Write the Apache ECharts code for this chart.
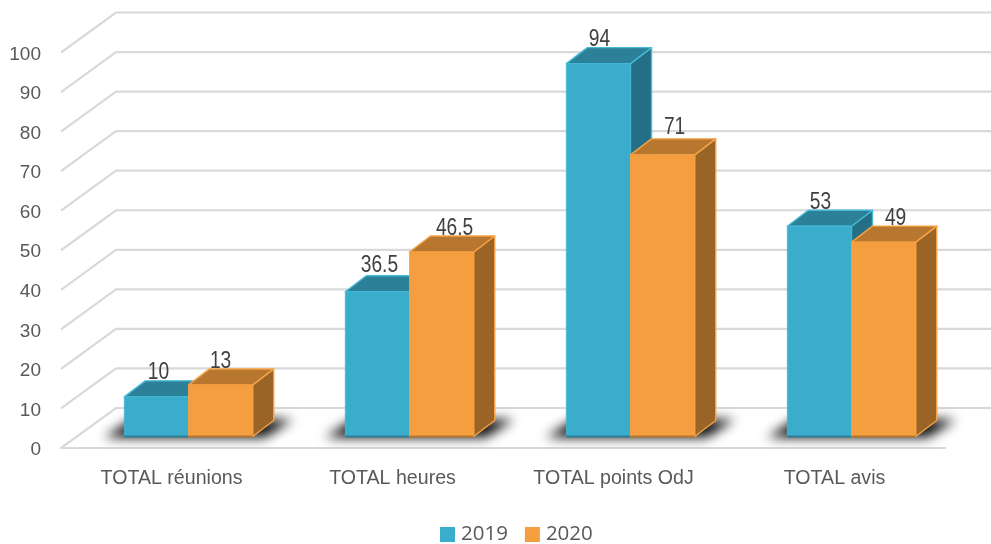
<!DOCTYPE html>
<html><head><meta charset="utf-8">
<style>html,body{margin:0;padding:0;background:#fff}#c{width:991px;height:544px}</style>
<script src="https://cdn.jsdelivr.net/npm/echarts@6/dist/echarts.min.js"></script>
</head><body><div id="c"></div>
<script>
const categories = ['TOTAL réunions','TOTAL heures','TOTAL points OdJ','TOTAL avis'];
const values2019 = [10,36.5,94,53];
const values2020 = [13,46.5,71,49];
const ticks = [0,10,20,30,40,50,60,70,80,90,100];

const FONT = '"Liberation Sans",Arial,sans-serif';
const WALL = {dx:55, dy:-40};
const BAR = {w:64.2, dx:21, dy:-16, floorX:17, floorY:-11.5, k:1.003};
const C = {
  s2019:{front:'#3BADCC',top:'#2C8199',side:'#246F86',edge:'#45B9D6',base:'#2A7F96',lx:[2,2,1,1],ly:[-8,-10,-8,-8]},
  s2020:{front:'#F59E3F',top:'#B8772E',side:'#996426',edge:'#F5A144',base:'#B8772E',lx:[0,13,12,12],ly:[-8,-8,-11,-8]}
};
const chart = echarts.init(document.getElementById('c'),null,{renderer:'canvas'});

function wallItem(p,api){
  const c = api.coord([0,api.value(1)]);
  const cs = p.coordSys;
  const x0 = cs.x, x1 = cs.x+cs.width;
  return {type:'polyline',silent:true,shape:{points:[[x0,c[1]],[x0+WALL.dx,c[1]+WALL.dy],[x1+WALL.dx,c[1]+WALL.dy]]},
    style:{stroke:'#D9D9D9',lineWidth:2.2,fill:null}};
}
function shadowItem(p,api){
  const idx = api.value(0);
  const c = api.coord([idx,0]);
  const l = c[0]-BAR.w+BAR.floorX, r = c[0]+BAR.w+BAR.floorX, b = c[1]+BAR.floorY;
  const off = 3000;
  return {type:'polygon',silent:true,shape:{points:[[l-20-off,b+1],[r+12-off,b+1],[r+40-off,b-17],[l+8-off,b-17]]},
    style:{fill:'#111',shadowBlur:12,shadowColor:'rgba(10,10,10,1)',shadowOffsetX:off}};
}
function barRender(sign,col){
  return function(p,api){
    const idx = api.value(0), v = api.value(1);
    const c0 = api.coord([idx,0]), cv = api.coord([idx,v]);
    const h = (c0[1]-cv[1])*BAR.k;
    const b = c0[1]+BAR.floorY, t = b-h;
    const xl = c0[0]+BAR.floorX+(sign<0?-BAR.w:0), xr = xl+BAR.w;
    const dx=BAR.dx, dy=BAR.dy;
    const line={stroke:col.edge,lineWidth:1.4,lineJoin:'round'};
    return {type:'group',children:[
      {type:'polygon',shape:{points:[[xr,t],[xr+dx,t+dy],[xr+dx,b+dy],[xr,b]]},style:{fill:col.side,...line}},
      {type:'polygon',shape:{points:[[xl,t],[xl+dx,t+dy],[xr+dx,t+dy],[xr,t]]},style:{fill:col.top,...line}},
      {type:'rect',shape:{x:xl,y:t,width:BAR.w,height:h},style:{fill:col.front,stroke:col.edge,lineWidth:0.8}},
      {type:'line',shape:{x1:xl,y1:b,x2:xr,y2:b},style:{stroke:col.base,lineWidth:2}},
      {type:'text',x:xl+BAR.w/2+col.lx[idx],y:t+dy+col.ly[idx],scaleX:0.8,
        style:{text:String(v),font:'24px '+FONT,fill:'#404040',textAlign:'center',textVerticalAlign:'middle'}}
    ]};
  };
}
function barSeries(name,sign,col,vals){
  return {name,type:'custom',clip:false,z:sign<0?4:5,itemStyle:{color:col.front},
    data:vals.map((v,i)=>[i,v]),encode:{x:0,y:1},renderItem:barRender(sign,col)};
}
chart.setOption({
  animation:false,
  backgroundColor:'#fff',
  grid:{left:61,right:46,top:52.5,bottom:96,containLabel:false},
  xAxis:{type:'category',data:categories,
    axisLine:{show:true,lineStyle:{color:'#D9D9D9',width:2.2}},axisTick:{show:false},
    axisLabel:{margin:21,color:'#595959',fontSize:19.6,fontFamily:FONT,interval:0}},
  yAxis:{type:'value',min:0,max:100,interval:10,
    axisLine:{show:false},axisTick:{show:false},splitLine:{show:false},
    axisLabel:{margin:20,color:'#595959',fontSize:19,fontFamily:FONT,verticalAlign:'top',lineHeight:4}},
  legend:{top:524,left:440,padding:0,itemWidth:15,itemHeight:15,itemGap:17,
    data:['2019','2020'],
    textStyle:{color:'#595959',fontSize:20.5,fontFamily:'"Open Sans",sans-serif',padding:[0,0,0,1]},
    icon:'rect'},
  series:[
    {type:'custom',clip:false,z:1,silent:true,data:ticks.map(t=>[0,t]),encode:{y:1},renderItem:wallItem},
    {type:'custom',clip:false,z:2,silent:true,data:categories.map((c,i)=>[i]),encode:{x:0},renderItem:shadowItem},
    barSeries('2019',-1,C.s2019,values2019),
    barSeries('2020',1,C.s2020,values2020)
  ]
});
</script></body></html>
